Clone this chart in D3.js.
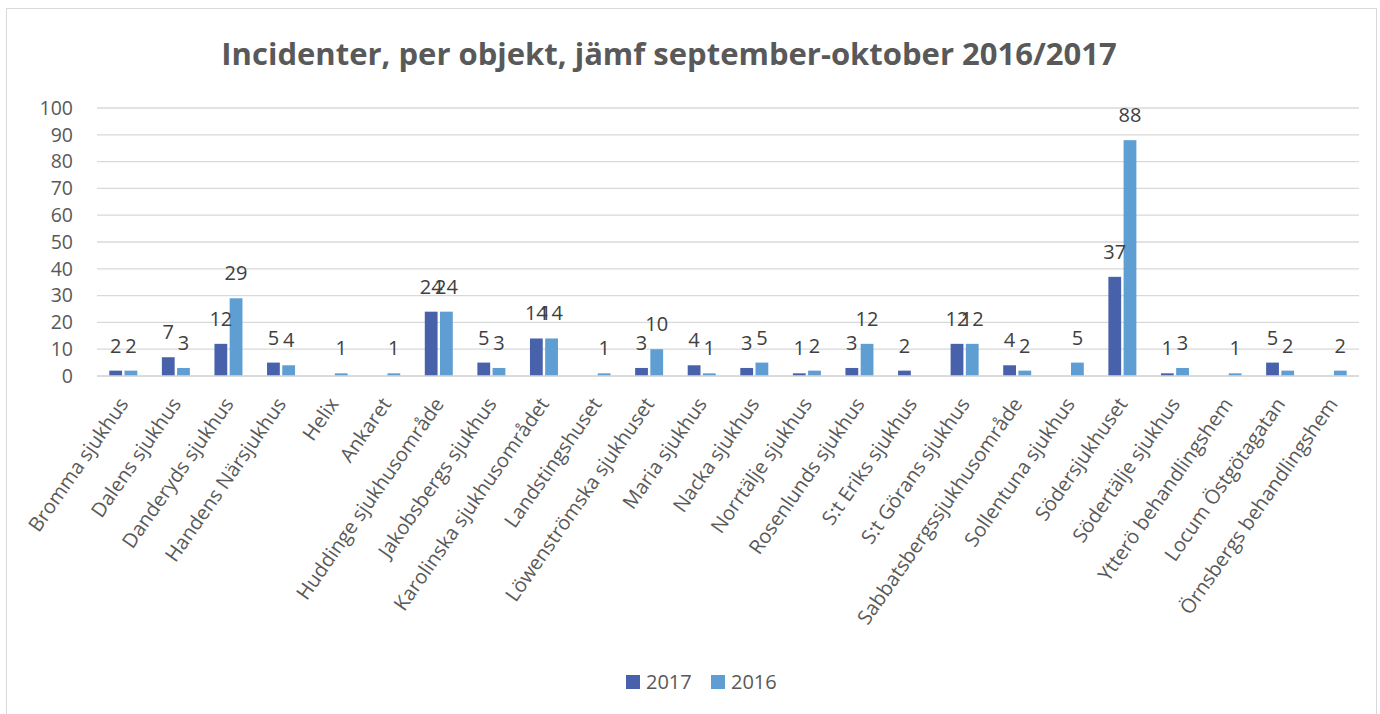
<!DOCTYPE html>
<html>
<head>
<meta charset="utf-8">
<script src="https://cdn.jsdelivr.net/npm/d3@7"></script>
<style>
  body { margin: 0; background: #fff; }
  text { font-family: "Open Sans", "Noto Sans", sans-serif; }
</style>
</head>
<body>
<div id="chart"></div>
<script>
// categories and values
const categories = [
    "Bromma sjukhus", "Dalens sjukhus", "Danderyds sjukhus", "Handens Närsjukhus",
    "Helix", "Ankaret", "Huddinge sjukhusområde", "Jakobsbergs sjukhus",
    "Karolinska sjukhusområdet", "Landstingshuset", "Löwenströmska sjukhuset",
    "Maria sjukhus", "Nacka sjukhus", "Norrtälje sjukhus", "Rosenlunds sjukhus",
    "S:t Eriks sjukhus", "S:t Görans sjukhus", "Sabbatsbergssjukhusområde",
    "Sollentuna sjukhus", "Södersjukhuset", "Södertälje sjukhus",
    "Ytterö behandlingshem", "Locum Östgötagatan", "Örnsbergs behandlingshem"
]
const values2017 = [2, 7, 12, 5, null, null, 24, 5, 14, null, 3, 4, 3, 1, 3, 2, 12, 4, null, 37, 1, null, 5, null]
const values2016 = [2, 3, 29, 4, 1, 1, 24, 3, 14, 1, 10, 1, 5, 2, 12, null, 12, 2, 5, 88, 3, 1, 2, 2]
const seriesNames = ["2017", "2016"]
const yTicks = [0, 10, 20, 30, 40, 50, 60, 70, 80, 90, 100]
const chartTitle = "Incidenter, per objekt, jämf september-oktober 2016/2017"

const colors = {"2017": "#4761ab", "2016": "#5f9ed3"}
const W = 1380, H = 714
const margin = {top: 108, right: 21, bottom: 338, left: 97}
const width = W - margin.left - margin.right
const height = H - margin.top - margin.bottom

const svg = d3.select("#chart").append("svg")
    .attr("width", W)
    .attr("height", H)

// outer chart border
svg.append("rect")
    .attr("x", 6.5).attr("y", 8.5)
    .attr("width", W - 10).attr("height", H)
    .attr("fill", "#fff")
    .attr("stroke", "#d9d9d9")

svg.append("text")
    .attr("x", 669).attr("y", 65)
    .attr("text-anchor", "middle")
    .attr("font-size", 31)
    .attr("font-weight", "bold")
    .attr("fill", "#595959")
    .text(chartTitle)

const g = svg.append("g")
    .attr("transform", `translate(${margin.left},${margin.top})`)

const x0 = d3.scaleBand().domain(categories).range([0, width]).paddingInner(0).paddingOuter(0)
const x1 = d3.scaleBand().domain(seriesNames).range([x0.bandwidth() / 2 - 14, x0.bandwidth() / 2 + 14]).paddingInner(0.16)
const y = d3.scaleLinear().domain([0, 100]).range([height, 0])

// gridlines
g.append("g")
    .selectAll("line")
    .data(yTicks)
    .join("line")
    .attr("x1", 0).attr("x2", width)
    .attr("y1", d => y(d)).attr("y2", d => y(d))
    .attr("stroke", "#d9d9d9")
    .attr("stroke-width", 1.3)

// y axis labels
const yAxis = d3.axisLeft(y).tickValues(yTicks).tickSize(0).tickPadding(24)
g.append("g")
    .call(yAxis)
    .call(a => a.select(".domain").remove())
    .selectAll("text")
    .attr("font-size", 19.5)
    .attr("fill", "#595959")

// x axis labels (steeper than 45 deg, as in the picture)
const xAxis = d3.axisBottom(x0).tickSize(0).tickPadding(0)
g.append("g")
    .attr("transform", `translate(0,${height})`)
    .call(xAxis)
    .call(a => a.select(".domain").remove())
    .selectAll("text")
    .attr("font-size", 20)
    .attr("fill", "#595959")
    .attr("text-anchor", "end")
    .attr("dy", 0)
    .attr("transform", "translate(6,28) rotate(-55)")

const rows = categories.map((c, i) => ({cat: c, vals: [
    {key: "2017", v: values2017[i]},
    {key: "2016", v: values2016[i]}
]}))

const groups = g.append("g")
    .selectAll("g")
    .data(rows)
    .join("g")
    .attr("transform", d => `translate(${x0(d.cat)},0)`)

groups.selectAll("rect")
    .data(d => d.vals.filter(e => e.v != null))
    .join("rect")
    .attr("x", d => x1(d.key))
    .attr("width", x1.bandwidth())
    .attr("y", d => y(d.v))
    .attr("height", d => height - y(d.v))
    .attr("fill", d => colors[d.key])

groups.selectAll("text")
    .data(d => d.vals.filter(e => e.v != null))
    .join("text")
    .attr("x", d => x1(d.key) + x1.bandwidth() / 2)
    .attr("y", d => y(d.v) - 18)
    .attr("text-anchor", "middle")
    .attr("font-size", 20)
    .attr("fill", "#404040")
    .text(d => d.v)

// baseline
g.append("line")
    .attr("x1", 0).attr("x2", width)
    .attr("y1", height).attr("y2", height)
    .attr("stroke", "#d9d9d9")
    .attr("stroke-width", 1.3)

// legend
const legend = svg.append("g").attr("transform", "translate(626,683)")
const items = legend.selectAll("g")
    .data(seriesNames)
    .join("g")
    .attr("transform", (d, i) => `translate(${i * 85},0)`)
items.append("rect")
    .attr("x", 0).attr("y", -8)
    .attr("width", 14).attr("height", 14)
    .attr("fill", d => colors[d])
items.append("text")
    .attr("x", 20).attr("y", 6)
    .attr("font-size", 20)
    .attr("fill", "#595959")
    .text(d => d)
</script>
</body>
</html>
